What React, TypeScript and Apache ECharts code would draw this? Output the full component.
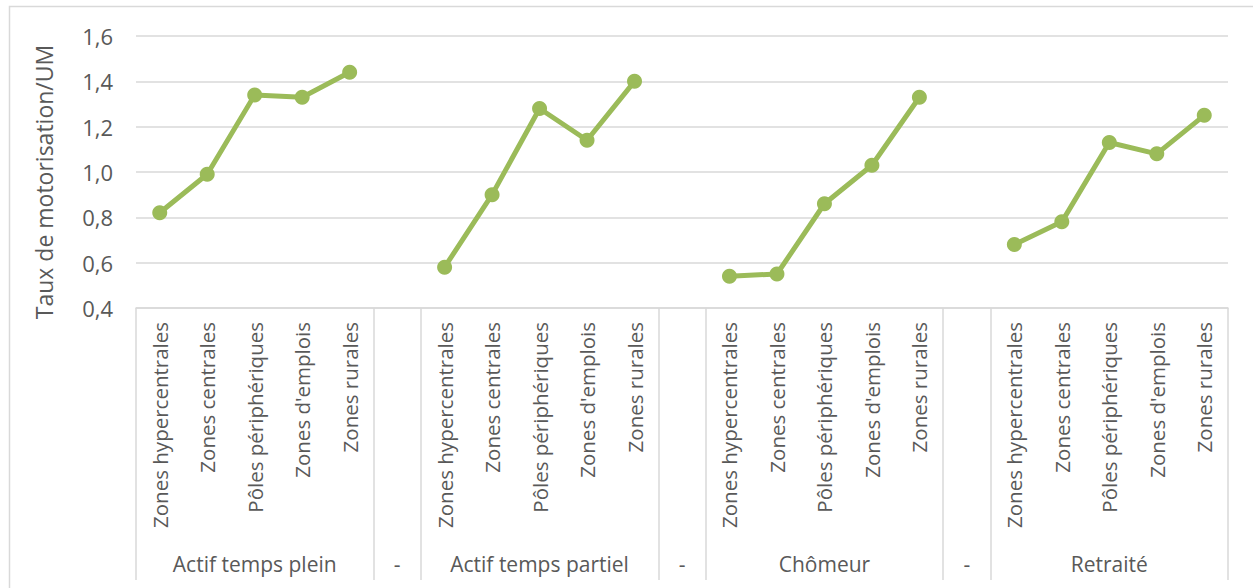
import React, { useEffect, useRef } from "react";
import * as echarts from "echarts";

const zones = [
  "Zones hypercentrales",
  "Zones centrales",
  "Pôles périphériques",
  "Zones d'emplois",
  "Zones rurales",
];
const groups = ["Actif temps plein", "Actif temps partiel", "Chômeur", "Retraité"];
const separatorLabel = "-";

const actifPlein = [0.82, 0.99, 1.34, 1.33, 1.44];
const actifPartiel = [0.58, 0.9, 1.28, 1.14, 1.4];
const chomeur = [0.54, 0.55, 0.86, 1.03, 1.33];
const retraite = [0.68, 0.78, 1.13, 1.08, 1.25];

const yTicks = { min: 0.4, max: 1.6, interval: 0.2 };
const yTitle = "Taux de motorisation/UM";

const TEXT = "#595959";
const GRID = "#d9d9d9";
const GREEN = "#9BBB59";
const FONT = "'Open Sans', sans-serif";

export default function App() {
  const ref = useRef<HTMLDivElement>(null);

  useEffect(() => {
    document.body.style.margin = "0";
    if (!ref.current) return;
    const chart = echarts.init(ref.current, undefined, { renderer: "svg" });

    const seriesGroups = [actifPlein, actifPartiel, chomeur, retraite];
    const inner: string[] = [];
    const outer: string[] = [];
    const values: (number | null)[] = [];
    const groupLabelIdx: number[] = [];
    const boundaryIdx: number[] = [];
    seriesGroups.forEach((vals, gi) => {
      const start = inner.length;
      boundaryIdx.push(start);
      zones.forEach((z, i) => {
        inner.push(z);
        outer.push(groups[gi]);
        values.push(vals[i]);
      });
      groupLabelIdx.push(start + 2);
      if (gi < seriesGroups.length - 1) {
        boundaryIdx.push(inner.length);
        groupLabelIdx.push(inner.length);
        inner.push("");
        outer.push(separatorLabel);
        values.push(null);
      }
    });

    chart.setOption({
      animation: false,
      textStyle: { fontFamily: FONT },
      grid: { left: 136, right: 25, top: 36, bottom: 280, containLabel: false },
      graphic: [
        {
          type: "rect",
          shape: { x: 9.5, y: 6.5, width: 1260, height: 600 },
          style: { fill: "none", stroke: GRID, lineWidth: 1.5 },
          silent: true,
        },
        {
          type: "text",
          x: 44,
          y: 182,
          rotation: Math.PI / 2,
          style: {
            text: yTitle,
            fill: TEXT,
            font: `23px ${FONT}`,
            align: "center",
            verticalAlign: "middle",
          },
        },
      ],
      xAxis: [
        {
          type: "category",
          data: inner,
          boundaryGap: true,
          axisLine: { show: true, lineStyle: { color: GRID, width: 1.5 } },
          axisTick: {
            show: true,
            length: 272,
            interval: (index: number) => boundaryIdx.includes(index),
            lineStyle: { color: GRID, width: 1.5 },
          },
          axisLabel: {
            rotate: 90,
            interval: 0,
            margin: 14,
            color: TEXT,
            fontSize: 20.5,
            fontFamily: FONT,
          },
          splitLine: { show: false },
        },
        {
          type: "category",
          data: outer,
          boundaryGap: true,
          position: "bottom",
          axisLine: { show: false },
          axisTick: { show: false },
          axisLabel: {
            interval: (index: number) => groupLabelIdx.includes(index),
            margin: 245,
            color: TEXT,
            fontSize: 21,
            fontFamily: FONT,
          },
          splitLine: { show: false },
        },
      ],
      yAxis: {
        type: "value",
        min: yTicks.min,
        max: yTicks.max,
        interval: yTicks.interval,
        axisLine: { show: false },
        axisTick: { show: false },
        splitLine: { lineStyle: { color: GRID, width: 1.5 } },
        axisLabel: {
          margin: 23,
          color: TEXT,
          fontSize: 22,
          fontFamily: FONT,
          formatter: (v: number) => v.toFixed(1).replace(".", ","),
        },
      },
      series: [
        {
          type: "line",
          xAxisIndex: 0,
          data: values,
          connectNulls: false,
          symbol: "circle",
          symbolSize: 15,
          lineStyle: { color: GREEN, width: 5 },
          itemStyle: { color: GREEN },
        },
      ],
    });

    return () => chart.dispose();
  }, []);

  return <div ref={ref} style={{ width: 1253, height: 588 }} />;
}
